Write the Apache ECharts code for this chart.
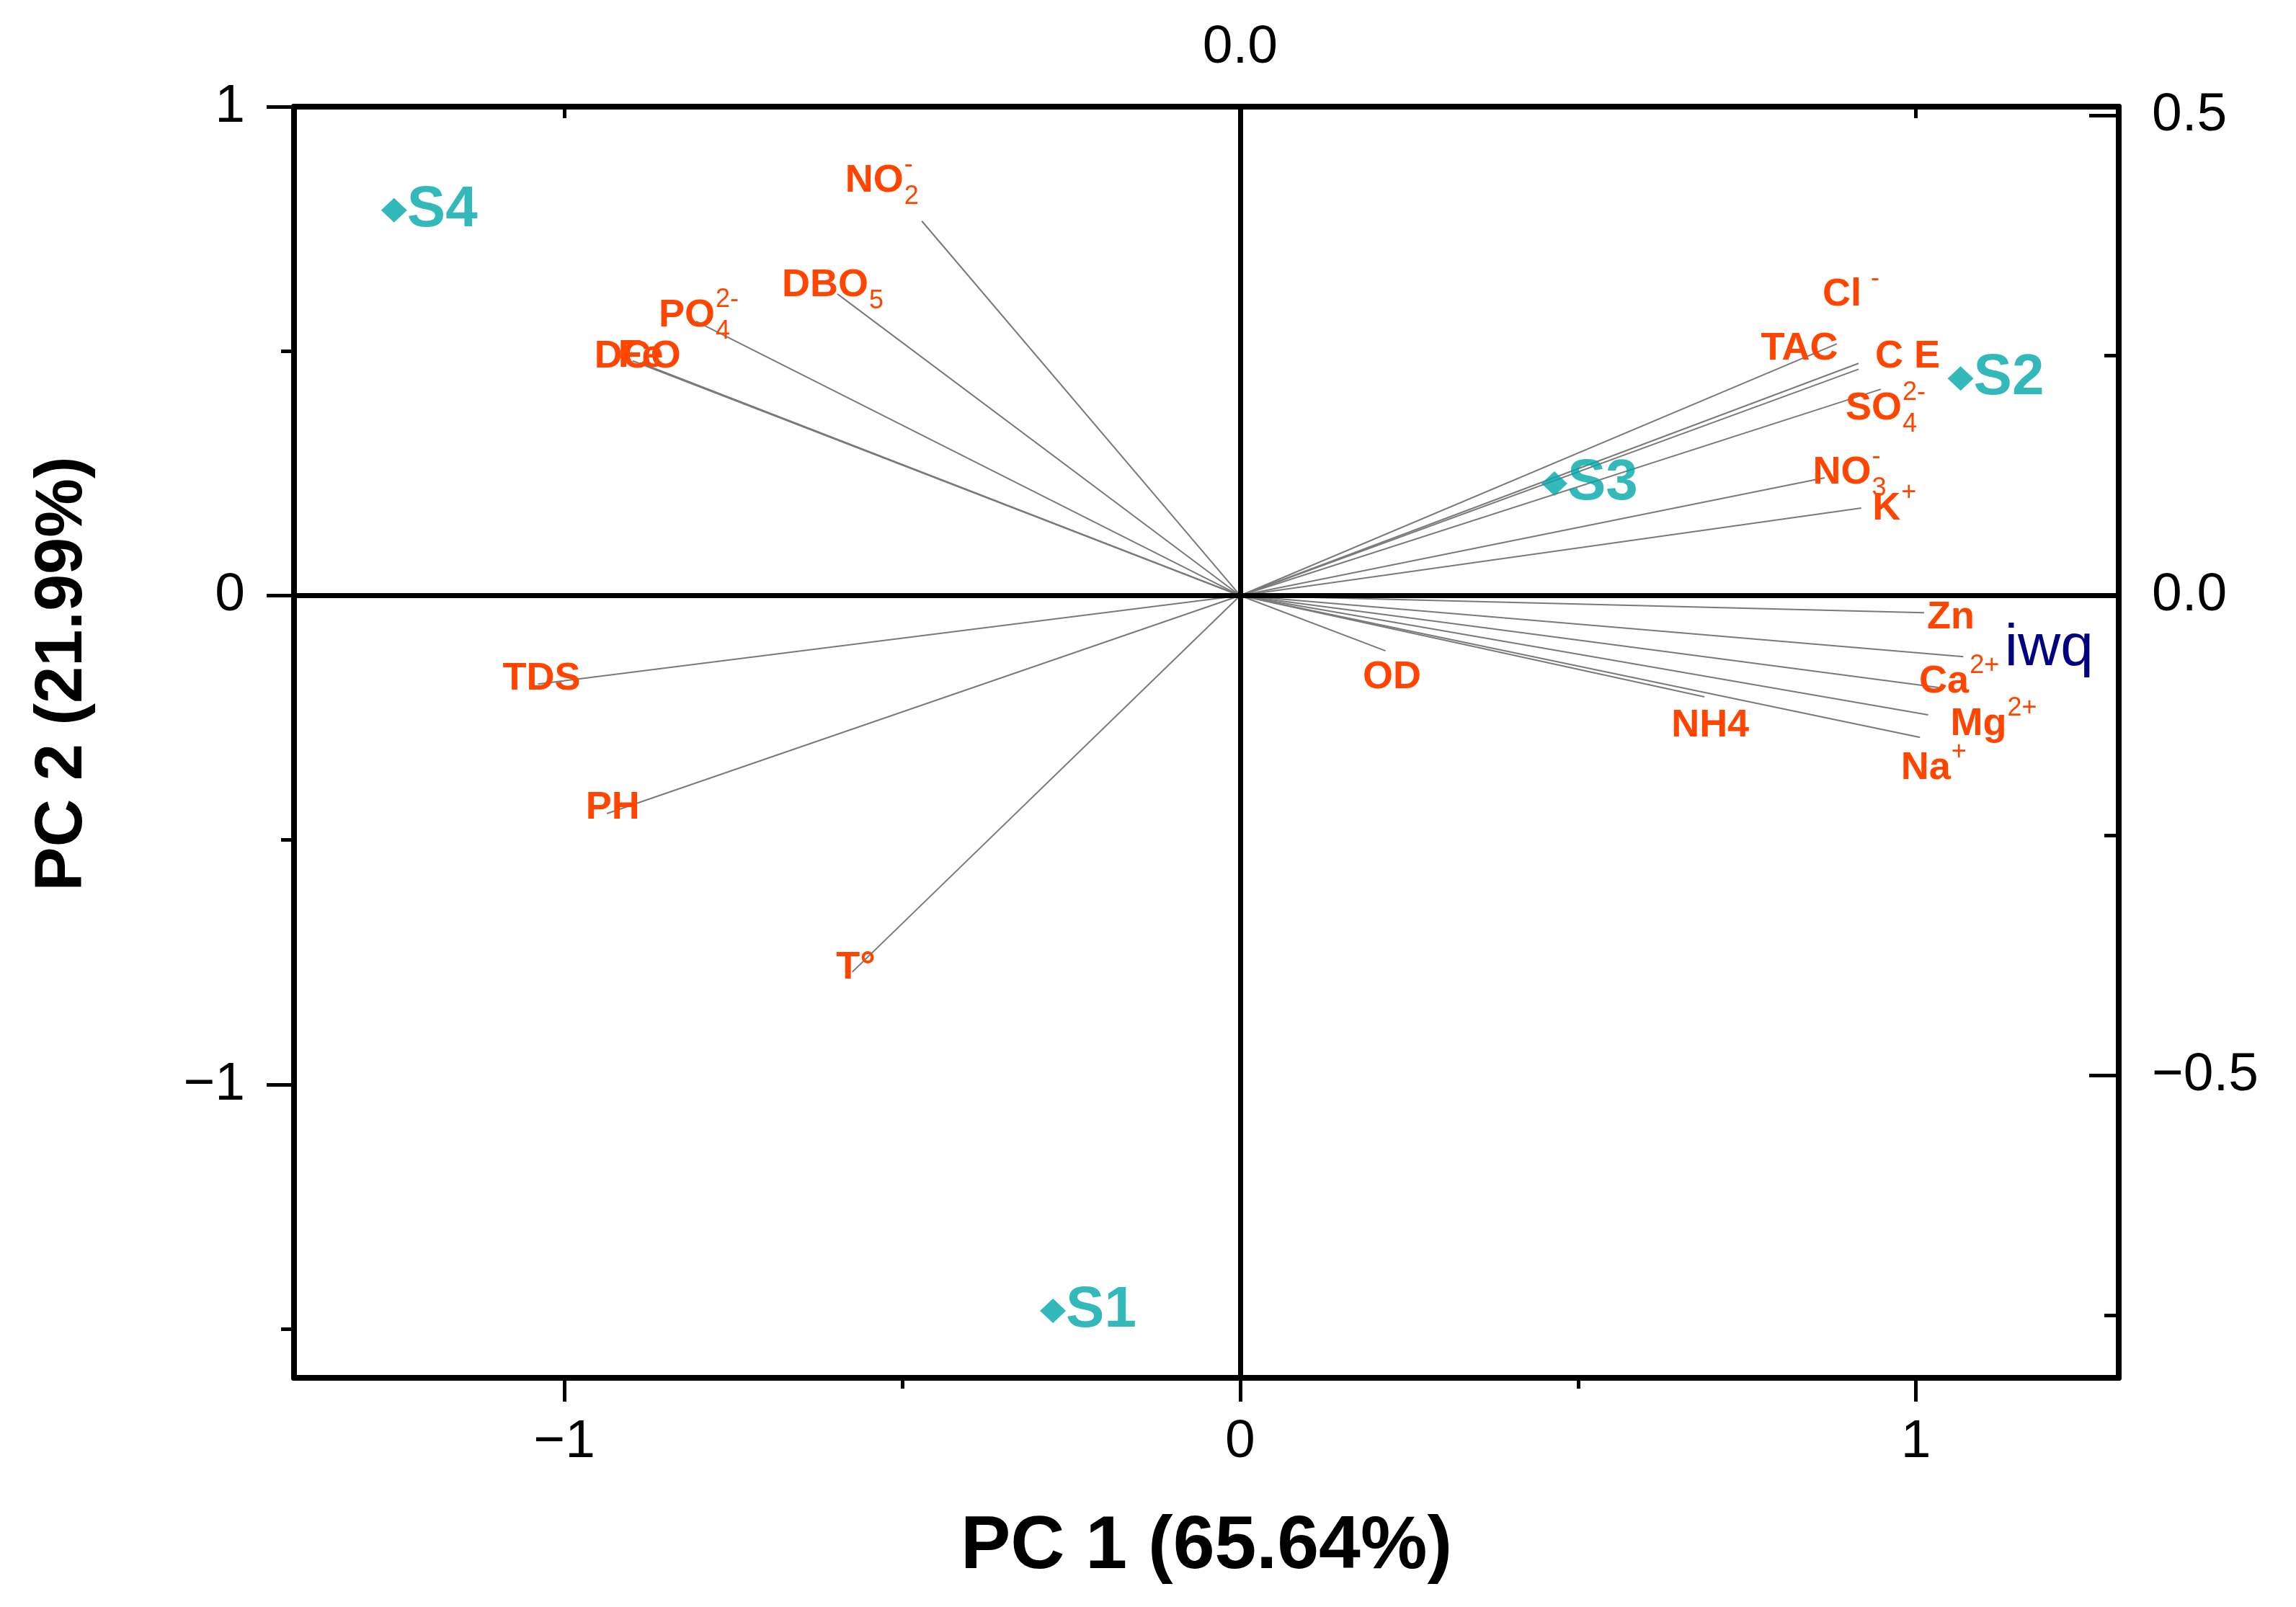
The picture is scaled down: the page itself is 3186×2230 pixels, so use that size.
<!DOCTYPE html>
<html>
<head>
<meta charset="utf-8">
<script src="https://cdn.jsdelivr.net/npm/echarts@6/dist/echarts.min.js"></script>
<style>
html,body{margin:0;padding:0;background:#fff;}
#chart{width:3186px;height:2230px;}
</style>
</head>
<body>
<div id="chart"></div>
<script>
// ---------- DATA ----------
// Variable loadings (in PC1 / PC2 axis units)
const varMain = ['NO','DBO','PO','DCO','Fe','TDS','PH','T°','OD','NH4','Zn','iwq','Ca','Mg','Na','Cl','C E','TAC','SO','NO','K'];
const varSub  = ['2','5','4','','','','','','','','','','','','','','','','4','3',''];
const varSup  = ['-','','2-','','','','','','','','','','2+','2+','+','-','','','2-','-','+'];
const varPC1  = [-0.471,-0.596,-0.805,-0.899,-0.888,-1.039,-0.937,-0.574,0.215,0.687,1.012,1.070,1.033,1.018,1.006,0.915,0.915,0.883,0.948,0.865,0.919];
const varPC2  = [0.766,0.617,0.561,0.480,0.476,-0.181,-0.446,-0.770,-0.113,-0.207,-0.035,-0.125,-0.188,-0.244,-0.290,0.475,0.463,0.515,0.422,0.241,0.179];

// Sample scores
const sampleNames = ['S1','S2','S3','S4'];
const samplePC1 = [-0.277, 1.066, 0.465, -1.252];
const samplePC2 = [-1.463, 0.444, 0.229, 0.788];

// Tick values / labels
const xMajorTicks = [-1, 0, 1];
const xMinorTicks = [-0.5, 0.5];
const topTicks = [-1, 1];
const topLabels = [0];
const yMajorTicks = [-1, 0, 1];
const yMinorTicks = [-1.5, -0.5, 0.5];
const rightMajorTicks = [-0.5, 0, 0.5];
const rightMinorTicks = [-0.75, -0.25, 0.25];
const xTitle = 'PC 1 (65.64%)';
const yTitle = 'PC 2 (21.99%)';

// ---------- STYLE (label placement offsets in px, relative to vector end) ----------
const labelOffsets = [[-66,-56],[-17,-12],[-13,-8],[7,-6],[1,-9],[5,-7],[8,-8],[5,-6],[9,37],[8,40],[37,7],[119,-11],[8,-8],[70,13],[8,43],[-23,-95],[68,-17],[-52,7],[-10,27],[24,-7],[35,1]];
const supGap = { 15: 12 };
const specialStyle = { 11: { color: '#000080', fontSize: 82, fontWeight: 'normal' } };

const FONT = 'Liberation Sans';
const ORANGE = '#FF4500';
const TEAL = '#00A8A8';
const mctx = document.createElement('canvas').getContext('2d');
function textWidth(t, font) { mctx.font = font; return mctx.measureText(t).width; }
function fmt(v, d) { const s = Math.abs(v).toFixed(d); return v < 0 ? '\u2212' + s : s; }

const chart = echarts.init(document.getElementById('chart'), null, { renderer: 'canvas' });

const baseLabel = { color: '#000', fontSize: 75, fontFamily: FONT };

const option = {
  animation: false,
  backgroundColor: '#fff',
  grid: { left: 408, right: 246, top: 148, bottom: 318, containLabel: false },
  xAxis: [
    {
      type: 'value', position: 'bottom', min: -1.4, max: 1.3,
      axisLine: { show: true, onZero: false, lineStyle: { color: '#000', width: 8 } },
      axisTick: { show: true, inside: false, length: 33, customValues: xMajorTicks, lineStyle: { color: '#000', width: 5 } },
      axisLabel: Object.assign({ customValues: xMajorTicks, margin: 52, formatter: v => fmt(v, 0) }, baseLabel),
      splitLine: { show: false },
      name: xTitle, nameLocation: 'middle', nameGap: 183,
      nameTextStyle: { fontSize: 104, fontWeight: 'bold', color: '#000', fontFamily: FONT }
    },
    {
      type: 'value', position: 'bottom', min: -1.4, max: 1.3,
      axisLine: { show: false, onZero: false },
      axisTick: { show: true, inside: false, length: 15, customValues: xMinorTicks, lineStyle: { color: '#000', width: 5 } },
      axisLabel: { show: false }, splitLine: { show: false }
    },
    {
      type: 'value', position: 'top', min: -1.4, max: 1.3,
      axisLine: { show: true, onZero: false, lineStyle: { color: '#000', width: 8 } },
      axisTick: { show: true, inside: true, length: 16, customValues: topTicks, lineStyle: { color: '#000', width: 5 } },
      axisLabel: Object.assign({ customValues: topLabels, margin: 44, formatter: v => fmt(v, 1) }, baseLabel),
      splitLine: { show: false }
    }
  ],
  yAxis: [
    {
      type: 'value', position: 'left', min: -1.6, max: 1.0,
      axisLine: { show: true, onZero: false, lineStyle: { color: '#000', width: 8 } },
      axisTick: { show: true, inside: false, length: 38, customValues: yMajorTicks, lineStyle: { color: '#000', width: 5 } },
      axisLabel: Object.assign({ customValues: yMajorTicks, margin: 68, formatter: v => fmt(v, 0) }, baseLabel),
      splitLine: { show: false },
      name: yTitle, nameLocation: 'middle', nameGap: 274, nameRotate: 90,
      nameTextStyle: { fontSize: 92, fontWeight: 'bold', color: '#000', fontFamily: FONT, padding: [0, 0, 0, 190] }
    },
    {
      type: 'value', position: 'left', min: -1.6, max: 1.0,
      axisLine: { show: false, onZero: false },
      axisTick: { show: true, inside: false, length: 18, customValues: yMinorTicks, lineStyle: { color: '#000', width: 5 } },
      axisLabel: { show: false }, splitLine: { show: false }
    },
    {
      type: 'value', position: 'right', min: -0.815, max: 0.509,
      axisLine: { show: true, onZero: false, lineStyle: { color: '#000', width: 8 } },
      axisTick: { show: true, inside: true, length: 41, customValues: rightMajorTicks, lineStyle: { color: '#000', width: 5 } },
      axisLabel: Object.assign({ customValues: rightMajorTicks, margin: 46, formatter: v => fmt(v, 1) }, baseLabel),
      splitLine: { show: false }
    },
    {
      type: 'value', position: 'right', min: -0.815, max: 0.509,
      axisLine: { show: false, onZero: false },
      axisTick: { show: true, inside: true, length: 20, customValues: rightMinorTicks, lineStyle: { color: '#000', width: 5 } },
      axisLabel: { show: false }, splitLine: { show: false }
    }
  ],
  series: [
    {
      type: 'scatter', name: 'zero', xAxisIndex: 0, yAxisIndex: 0, data: [], z: 1,
      markLine: {
        silent: true, symbol: ['none', 'none'], animation: false,
        label: { show: false },
        lineStyle: { color: '#000', width: 7, type: 'solid' },
        emphasis: { disabled: true },
        data: [{ xAxis: 0 }, { yAxis: 0 }]
      }
    },
    {
      type: 'custom', name: 'loadings', xAxisIndex: 0, yAxisIndex: 0, z: 2,
      encode: { x: 0, y: 1 },
      data: varPC1.map((v, i) => [v, varPC2[i]]),
      renderItem: function (params, api) {
        const i = params.dataIndex;
        const end = api.coord([api.value(0), api.value(1)]);
        const org = api.coord([0, 0]);
        const sp = specialStyle[i] || {};
        const color = sp.color || ORANGE;
        const fs = sp.fontSize || 54;
        const fw = sp.fontWeight || 'bold';
        const off = labelOffsets[i];
        const cx = end[0] + off[0], cy = end[1] + off[1];
        const w = textWidth(varMain[i], fw + ' ' + fs + 'px "' + FONT + '"');
        const children = [
          { type: 'line', z2: 1, shape: { x1: org[0], y1: org[1], x2: end[0], y2: end[1] },
            style: { stroke: '#7a7a7a', lineWidth: 2 } },
          { type: 'text', z2: 10, style: { text: varMain[i], x: cx, y: cy, align: 'center', verticalAlign: 'middle',
            fill: color, fontSize: fs, fontWeight: fw, fontFamily: FONT } }
        ];
        const sx = cx + w / 2 + 1;
        if (varSub[i]) children.push({ type: 'text', z2: 10, style: { text: varSub[i], x: sx, y: cy + 22, align: 'left', verticalAlign: 'middle',
          fill: color, fontSize: 36, fontWeight: 'normal', fontFamily: FONT } });
        if (varSup[i]) children.push({ type: 'text', z2: 10, style: { text: varSup[i], x: sx + (supGap[i] || 0), y: cy - 22, align: 'left', verticalAlign: 'middle',
          fill: color, fontSize: 36, fontWeight: 'normal', fontFamily: FONT } });
        return { type: 'group', children: children };
      }
    },
    {
      type: 'scatter', name: 'samples', xAxisIndex: 0, yAxisIndex: 0, z: 3,
      symbol: 'diamond', symbolSize: [36, 34],
      itemStyle: { color: TEAL },
      label: { show: true, position: 'right', distance: 0, formatter: '{b}', color: TEAL,
        fontSize: 80, fontWeight: 'bold', fontFamily: FONT },
      data: sampleNames.map((n, i) => ({ name: n, value: [samplePC1[i], samplePC2[i]] }))
    }
  ]
};
chart.setOption(option);
</script>
</body>
</html>
